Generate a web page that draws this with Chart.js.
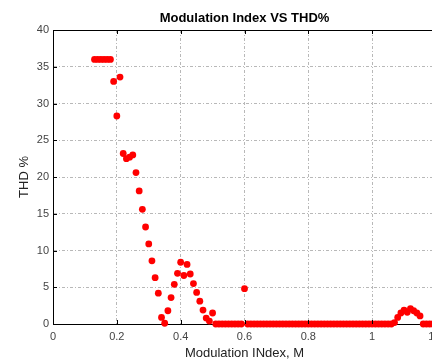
<!DOCTYPE html>
<html>
<head>
<meta charset="utf-8">
<script src="https://cdn.jsdelivr.net/npm/chart.js@4.4.1/dist/chart.umd.min.js"></script>
<style>
html,body{margin:0;padding:0;background:#fff;overflow:hidden;width:432px;height:359px;}
canvas{display:block;}
</style>
</head>
<body>
<canvas id="c" width="489" height="359"></canvas>
<script>
const titleText = "Modulation Index VS THD%";
const xTitle = "Modulation INdex, M";
const yTitle = "THD %";
const xTicks = [0, 0.2, 0.4, 0.6, 0.8, 1, 1.2];
const yTicks = [0, 5, 10, 15, 20, 25, 30, 35, 40];

const modIndex = [
  0.13,0.14,0.15,0.16,0.17,0.18,0.19,0.20,0.21,0.22,0.23,0.24,0.25,0.26,0.27,0.28,0.29,
  0.30,0.31,0.32,0.33,0.34,0.35,0.36,0.37,0.38,0.39,0.40,0.41,0.42,0.43,0.44,0.45,0.46,0.47,0.48,0.49,
  0.50,0.51,0.52,0.53,0.54,0.55,0.56,0.57,0.58,0.59,0.60,0.61,0.62,0.63,0.64,0.65,0.66,0.67,0.68,0.69,
  0.70,0.71,0.72,0.73,0.74,0.75,0.76,0.77,0.78,0.79,0.80,0.81,0.82,0.83,0.84,0.85,0.86,0.87,0.88,0.89,
  0.90,0.91,0.92,0.93,0.94,0.95,0.96,0.97,0.98,0.99,1.00,1.01,1.02,1.03,1.04,1.05,1.06,1.07,1.08,1.09,
  1.10,1.11,1.12,1.13,1.14,1.15,1.16,1.17,1.18,1.19,1.20
];
const thd = [
  36.0,36.0,36.0,36.0,36.0,36.0,33.0,28.3,33.6,23.2,22.5,22.7,23.0,20.6,18.1,15.6,13.2,
  10.9,8.6,6.3,4.2,0.9,0.1,1.8,3.6,5.4,6.9,8.4,6.6,8.1,6.8,5.5,4.3,3.1,1.9,0.8,0.4,
  1.5,0,0,0,0,0,0,0,0,0,4.8,0,0,0,0,0,0,0,0,0,
  0,0,0,0,0,0,0,0,0,0,0,0,0,0,0,0,0,0,0,0,
  0,0,0,0,0,0,0,0,0,0,0,0,0,0,0,0,0,0.2,0.9,1.5,
  1.9,1.6,2.1,1.8,1.5,1.1,0,0,0,0,0
];

const points = modIndex.map((m, i) => ({x: m, y: thd[i]}));

const frame = {
  id: 'frame',
  afterDraw(chart) {
    const ctx = chart.ctx, a = chart.chartArea;
    const xs = chart.scales.x, ys = chart.scales.y;
    ctx.save();
    ctx.strokeStyle = '#000';
    ctx.lineWidth = 1;
    ctx.beginPath();
    ctx.moveTo(a.left + 0.5, a.bottom + 0.5);
    ctx.lineTo(a.left + 0.5, a.top + 0.5);
    ctx.lineTo(a.right + 0.5, a.top + 0.5);
    ctx.stroke();
    ctx.beginPath();
    xTicks.forEach(v => {
      const px = Math.round(xs.getPixelForValue(v)) + 0.5;
      ctx.moveTo(px, a.bottom); ctx.lineTo(px, a.bottom - 4);
      ctx.moveTo(px, a.top); ctx.lineTo(px, a.top + 4);
    });
    yTicks.forEach(v => {
      const py = Math.round(ys.getPixelForValue(v)) + 0.5;
      ctx.moveTo(a.left, py); ctx.lineTo(a.left + 4, py);
    });
    ctx.stroke();
    ctx.restore();
  }
};

new Chart(document.getElementById('c'), {
  type: 'scatter',
  data: {
    datasets: [{
      data: points,
      backgroundColor: '#ff0000',
      borderColor: '#ff0000',
      borderWidth: 0,
      pointRadius: 3.4,
      pointHoverRadius: 3.4,
      showLine: false,
      clip: false
    }]
  },
  options: {
    responsive: false,
    animation: false,
    devicePixelRatio: 1,
    layout: {padding: {left: 0, right: 53, top: 0, bottom: 0}},
    plugins: {
      legend: {display: false},
      tooltip: {enabled: false},
      title: {
        display: true,
        fullSize: false,
        text: titleText,
        color: '#000',
        font: {family: 'Liberation Sans, Arial, sans-serif', size: 13, weight: 'bold', lineHeight: 1.2},
        padding: {top: 11, bottom: 3.4}
      }
    },
    scales: {
      x: {
        type: 'linear',
        min: 0, max: 1.2,
        afterBuildTicks: s => { s.ticks = xTicks.map(v => ({value: v})); },
        afterFit: s => { s.height = 35; },
        ticks: {
          color: '#444',
          font: {family: 'Liberation Sans, Arial, sans-serif', size: 11},
          padding: 6,
          maxRotation: 0,
          callback: v => String(v)
        },
        grid: {color: 'rgba(0,0,0,0.28)', drawTicks: false, lineWidth: 1},
        border: {display: true, color: '#000', width: 1, dash: [3, 2, 1, 2]},
        title: {
          display: true, text: xTitle, color: '#222',
          font: {family: 'Liberation Sans, Arial, sans-serif', size: 13, lineHeight: 1.2},
          padding: {top: 0, bottom: -2}
        }
      },
      y: {
        type: 'linear',
        min: 0, max: 40,
        afterBuildTicks: s => { s.ticks = yTicks.map(v => ({value: v})); },
        afterFit: s => { s.width = 53; },
        ticks: {
          color: '#444',
          font: {family: 'Liberation Sans, Arial, sans-serif', size: 11},
          padding: 4
        },
        grid: {color: 'rgba(0,0,0,0.28)', drawTicks: false, lineWidth: 1},
        border: {display: true, color: '#000', width: 1, dash: [3, 2, 1, 2]},
        title: {
          display: true, text: yTitle, color: '#222',
          font: {family: 'Liberation Sans, Arial, sans-serif', size: 13, lineHeight: 1.2},
          padding: {top: 17, bottom: 0}
        }
      }
    }
  },
  plugins: [frame]
});
</script>
</body>
</html>
